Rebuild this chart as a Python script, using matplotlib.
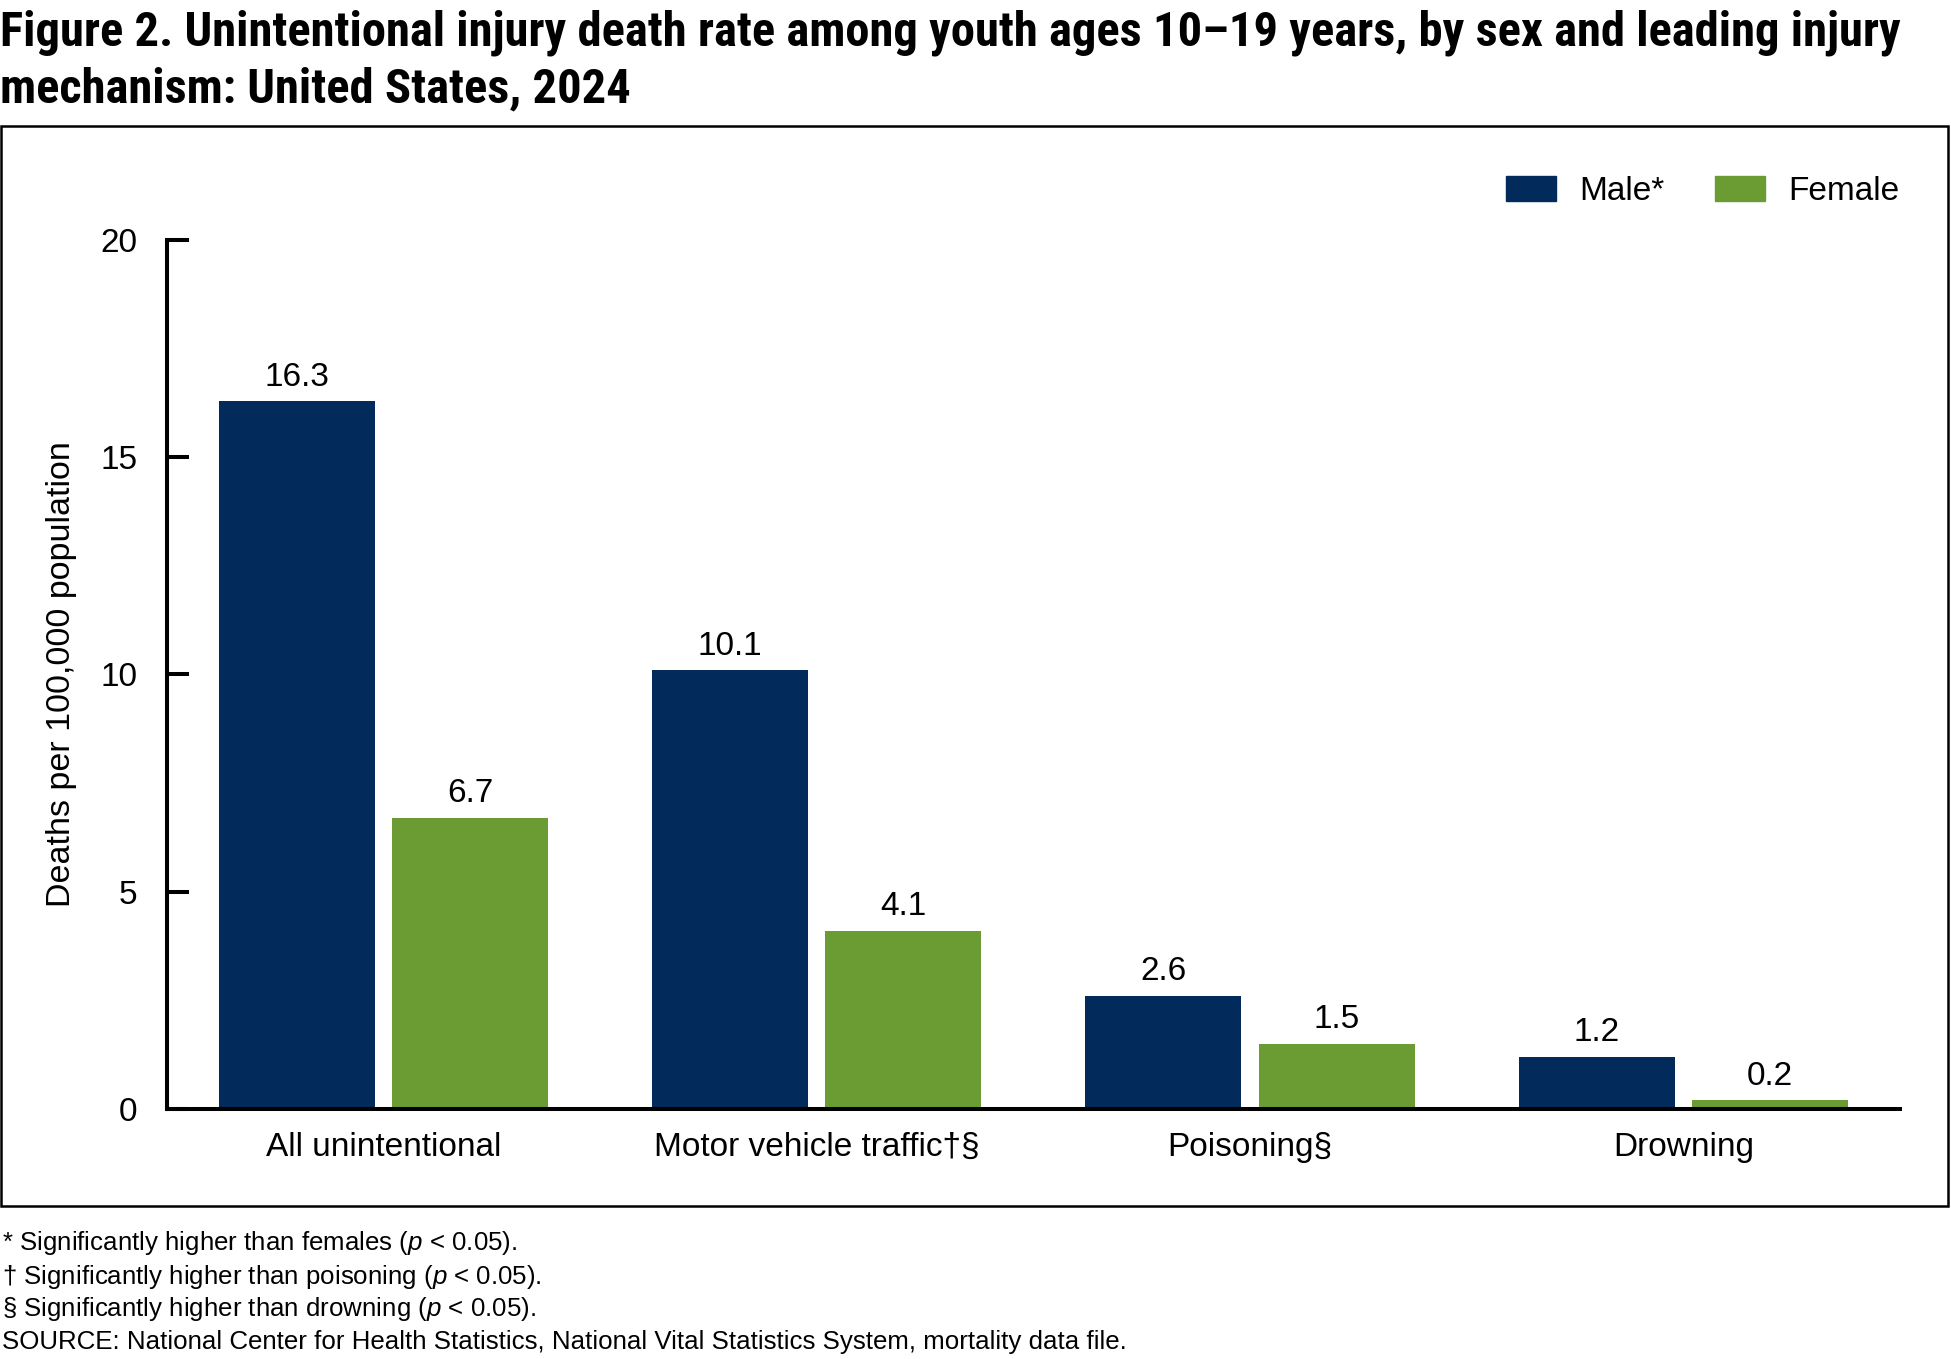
import numpy as np
import matplotlib
matplotlib.use('Agg')
import matplotlib.pyplot as plt
from matplotlib.patches import Rectangle, Patch

plt.rcParams['font.family'] = ['Liberation Sans', 'DejaVu Sans']
plt.rcParams['mathtext.fontset'] = 'custom'
plt.rcParams['mathtext.it'] = 'Liberation Sans:italic'
plt.rcParams['mathtext.rm'] = 'Liberation Sans'

# data
categories = ['All unintentional', 'Motor vehicle traffic\u2020\u00a7', 'Poisoning\u00a7', 'Drowning']
male = [16.3, 10.1, 2.6, 1.2]
female = [6.7, 4.1, 1.5, 0.2]
series_names = ['Male*', 'Female']
colors = ['#022B5B', '#6B9C33']
yticks = [0, 5, 10, 15, 20]

title1 = 'Figure 2. Unintentional injury death rate among youth ages 10\u201319 years, by sex and leading injury'
title2 = 'mechanism: United States, 2024'
notes = ['* Significantly higher than females ($p$ < 0.05).',
         '\u2020 Significantly higher than poisoning ($p$ < 0.05).',
         '\u00a7 Significantly higher than drowning ($p$ < 0.05).',
         'SOURCE: National Center for Health Statistics, National Vital Statistics System, mortality data file.']

FS = 24
title_fam = ['Liberation Sans Narrow', 'Roboto Condensed', 'Noto Sans Condensed',
             'Open Sans Condensed', 'Noto Sans', 'DejaVu Sans']

fig = plt.figure(figsize=(19.51, 13.59), dpi=100)
ax = fig.add_axes([0.0855, 0.1842, 0.9739 - 0.0855, 0.8233 - 0.1842])

x = np.arange(len(categories))
w = 0.36
b1 = ax.bar(x - 0.2, male, w, color=colors[0], label=series_names[0])
b2 = ax.bar(x + 0.2, female, w, color=colors[1], label=series_names[1])

for bars, vals in [(b1, male), (b2, female)]:
    for r, v in zip(bars, vals):
        ax.annotate(f'{v:.1f}', (r.get_x() + r.get_width() / 2, v), xytext=(0, 11),
                    textcoords='offset points', ha='center', va='baseline', fontsize=FS)

ax.set_xlim(-0.5, 3.5)
ax.set_ylim(0, 20)
ax.set_yticks(yticks)
ax.set_xticks(x)
ax.set_xticklabels(categories, fontsize=FS)
ax.tick_params(axis='y', direction='in', length=16, width=2.9, pad=21, labelsize=FS)
ax.tick_params(axis='x', length=0, pad=17)
for s in ['top', 'right']:
    ax.spines[s].set_visible(False)
ax.spines['left'].set_linewidth(2.9)
ax.spines['bottom'].set_linewidth(2.9)
ax.spines['left'].set_capstyle('projecting')
ax.set_ylabel('Deaths per 100,000 population', fontsize=24.5)
ax.yaxis.set_label_coords(-0.0518, 0.5)

handles = [Patch(color=colors[0]), Patch(color=colors[1])]
fig.legend(handles, series_names, loc='center right', bbox_to_anchor=(0.9735, 0.859),
           bbox_transform=fig.transFigure, ncol=2, frameon=False, fontsize=FS,
           handlelength=1.5, handleheight=0.75, handletextpad=0.69, columnspacing=1.53,
           borderpad=0, borderaxespad=0)

fig.patches.append(Rectangle((0.0005, 0.1128), 0.9982, 0.9075 - 0.1128, transform=fig.transFigure,
                             fill=False, edgecolor='black', linewidth=1.8))

fig.text(0.0, 1 - 45 / 1359, title1, fontsize=35, fontweight='bold', fontstretch='condensed',
         family=title_fam, va='baseline', ha='left')
fig.text(0.0, 1 - 102 / 1359, title2, fontsize=35, fontweight='bold', fontstretch='condensed',
         family=title_fam, va='baseline', ha='left')

for t, yy in zip(notes, [0.0852, 0.0607, 0.0370, 0.0122]):
    fig.text(0.001, yy, t, fontsize=18.6, va='center', ha='left')

fig.savefig('out.png', dpi=100)
